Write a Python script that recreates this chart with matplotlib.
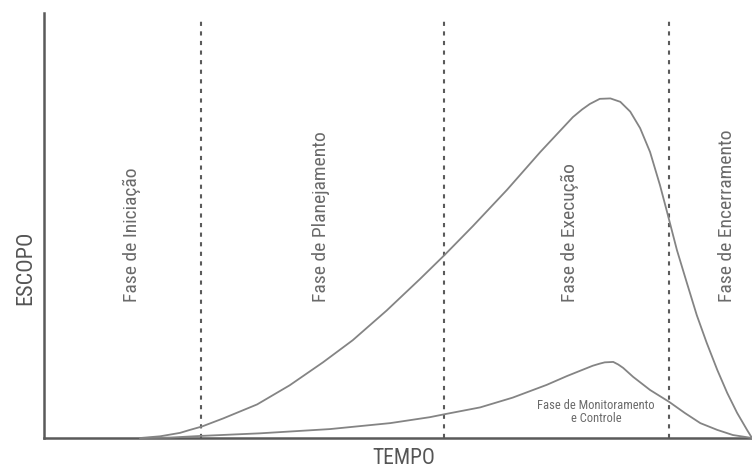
import matplotlib
matplotlib.use("Agg")
import matplotlib.pyplot as plt

plt.rcParams['font.family'] = ['Liberation Sans Narrow', 'Roboto Condensed', 'Noto Sans Condensed',
                               'Open Sans Condensed', 'DejaVu Sans']
plt.rcParams['font.stretch'] = 'condensed'

# curva de escopo (tempo 0-100, escopo 0-100)
tempo_escopo = [13.6, 16.4, 19.2, 20.6, 22.3, 25.3, 30.1, 34.7, 39.4, 43.6, 48.4, 53.1,
                56.6, 60.6, 65.4, 70.1, 74.7, 76.0, 77.1, 78.5, 80.0, 81.4, 82.8, 84.2, 85.6,
                87.0, 88.0, 89.4, 90.8, 92.2, 93.6, 95.1, 96.5, 97.9, 99.3, 100]
escopo = [0, 0.4, 1.2, 1.9, 2.7, 4.6, 7.9, 12.4, 17.8, 23.0, 30.0, 37.4,
          43.1, 49.9, 58.4, 67.3, 75.5, 77.3, 78.6, 79.8, 79.9, 79.1, 76.8, 72.9, 67.3,
          59.5, 53.2, 44.2, 36.5, 28.9, 22.4, 16.0, 10.6, 5.9, 1.9, 0]

# curva de monitoramento e controle
tempo_monit = [13.6, 17.8, 22.3, 30.5, 40.4, 48.9, 54.5, 56.6, 61.6, 66.2, 71.0, 73.9,
               77.5, 78.5, 79.2, 80.4, 81.1, 81.8, 83.2, 85.6, 88.3, 90.5, 92.7, 95.1,
               97.3, 100]
monit = [0, 0.1, 0.5, 1.1, 2.1, 3.5, 4.9, 5.6, 7.2, 9.5, 12.5, 14.6,
         17.0, 17.5, 17.8, 17.9, 17.3, 16.5, 14.4, 11.3, 8.5, 5.9, 3.5, 1.9,
         0.7, 0]

# limites das fases
divisoes = [22.2, 56.5, 88.3]
fases = ['Fase de Iniciação', 'Fase de Planejamento', 'Fase de Execução', 'Fase de Encerramento']
fases_x = [12.4, 39.1, 74.3, 96.5]

fig = plt.figure(figsize=(7.52, 4.76), dpi=100)
ax = fig.add_axes([44 / 752, 38 / 476, 708 / 752, 425 / 476])
ax.set_xlim(0, 100)
ax.set_ylim(0, 100)

ax.plot(tempo_escopo, escopo, color='#848484', lw=1.3, clip_on=False, zorder=3)
ax.plot(tempo_monit, monit, color='#848484', lw=1.3, clip_on=False, zorder=3)

ax.vlines(divisoes, 0, 98.8, colors='#5a5a5a', lw=1.5, linestyles=(0, (2, 2.6)), zorder=2)

for nome, x in zip(fases, fases_x):
    ax.text(x, 32.0, nome, rotation=90, ha='center', va='bottom',
            fontsize=14, color='#6a6a6a')

ax.text(78.0, 6.1, 'Fase de Monitoramento\ne Controle', ha='center', va='center',
        fontsize=9, color='#6a6a6a', linespacing=1.05)

for s in ['top', 'right']:
    ax.spines[s].set_visible(False)
for s in ['left', 'bottom']:
    ax.spines[s].set_color('#5a5a5a')
    ax.spines[s].set_linewidth(1.8)
ax.set_xticks([])
ax.set_yticks([])

ax.set_xlabel('TEMPO', fontsize=15.5, color='#555555')
ax.xaxis.set_label_coords(0.508, -0.049)
ax.set_ylabel('ESCOPO', fontsize=16, color='#555555')
ax.yaxis.set_label_coords(-0.0254, 0.40)
ax.xaxis.label.set_va('center')
ax.yaxis.label.set_va('center')

fig.savefig('out.png', dpi=100)
